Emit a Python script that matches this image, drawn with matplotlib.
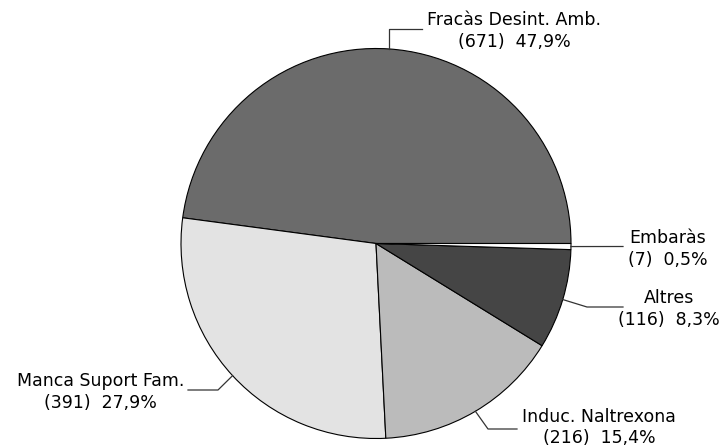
import matplotlib.pyplot as plt
import numpy as np

plt.rcParams['font.family'] = 'DejaVu Sans'

# Dades
categories = ['Fracàs Desint. Amb.', 'Manca Suport Fam.', 'Induc. Naltrexona', 'Altres', 'Embaràs']
counts = [671, 391, 216, 116, 7]
pct_labels = ['47,9%', '27,9%', '15,4%', '8,3%', '0,5%']
colors = ['#6b6b6b', '#e3e3e3', '#bbbbbb', '#454545', '#ffffff']

W, H = 720, 448
fig = plt.figure(figsize=(W / 100, H / 100), dpi=100)
ax = fig.add_axes([0, 0, 1, 1])

cx, cy, r = 376, H - 243.5, 195
wedges, _ = ax.pie(counts, colors=colors, startangle=0, counterclock=True,
                   center=(cx, cy), radius=r,
                   wedgeprops=dict(edgecolor='black', linewidth=0.8))

ax.set_xlim(0, W)
ax.set_ylim(0, H)
ax.set_aspect('equal')
ax.axis('off')

# Posició de les etiquetes (colze de la línia, final de la línia, text) en píxels
layout = {
    'Fracàs Desint. Amb.': dict(elbow=None, dy=-20, end=(422, 29), text=(427, 31), ha='left'),
    'Embaràs': dict(elbow=None, dy=None, end=(623, 246.5), text=(628, 249), ha='left'),
    'Altres': dict(elbow=(587, 307), dy=None, end=(623, 307), text=(669, 309), ha='center'),
    'Induc. Naltrexona': dict(elbow=(488, 429), dy=None, end=(517, 429), text=(522, 427.5), ha='left'),
    'Manca Suport Fam.': dict(elbow=(218, 390), dy=None, end=(188, 390), text=(184, 392), ha='right'),
}

for w, cat, n, p in zip(wedges, categories, counts, pct_labels):
    mid = np.deg2rad((w.theta1 + w.theta2) / 2)
    ax_x = cx + r * np.cos(mid)
    ax_y = cy + r * np.sin(mid)
    L = layout[cat]
    xs, ys = [ax_x], [ax_y]
    if L['dy'] is not None:
        xs.append(ax_x)
        ys.append(ax_y - L['dy'])
        xs.append(L['end'][0])
        ys.append(ax_y - L['dy'])
    else:
        if L['elbow'] is not None:
            xs.append(L['elbow'][0])
            ys.append(H - L['elbow'][1])
        xs.append(L['end'][0])
        ys.append(H - L['end'][1])
    ax.plot(xs, ys, color='#333333', linewidth=0.9)
    ax.text(L['text'][0], H - L['text'][1], f'{cat}\n({n})  {p}',
            ha=L['ha'], va='center', multialignment='center',
            fontsize=12.5, linespacing=1.26 if cat != 'Induc. Naltrexona' else 1.18,
            color='black')

plt.savefig('out.png', dpi=100)
